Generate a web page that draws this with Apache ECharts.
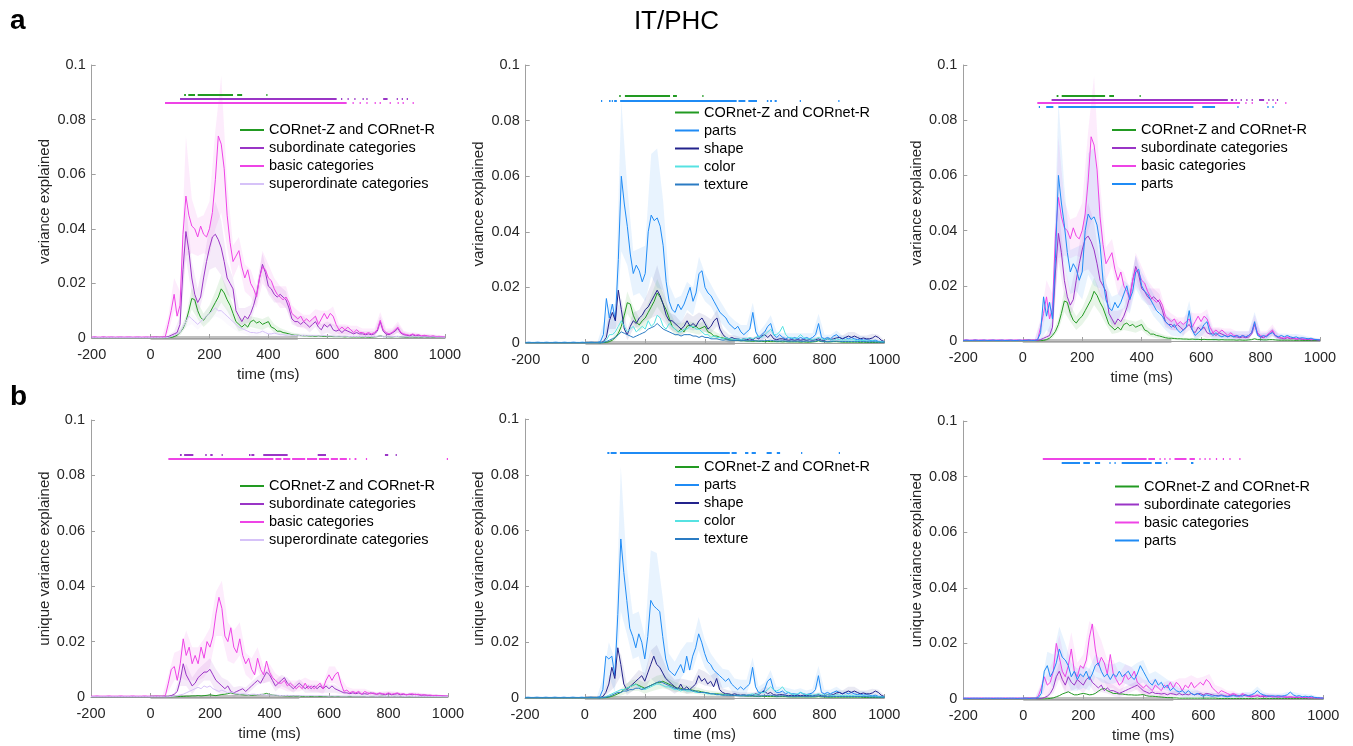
<!DOCTYPE html>
<html>
<head>
<meta charset="utf-8">
<title>IT/PHC</title>
<script src="https://cdn.jsdelivr.net/npm/echarts@6/dist/echarts.min.js"></script>
<style>
  html, body { margin: 0; padding: 0; background: #fff; }
  #chart { width: 1353px; height: 746px; }
</style>
</head>
<body>
<div id="chart"></div>
<script>
"use strict";

// sampling grid: -200 .. 1000 ms, 10 ms steps; all values below are x1e-3
const T0 = -200, DT = 10, N = 121;
const times = [];
for (let i = 0; i < N; i++) times.push(T0 + DT * i);
const xTicks = [-200, 0, 200, 400, 600, 800, 1000];
const yTicks = [0, 0.02, 0.04, 0.06, 0.08, 0.1];
const stimulus = [0, 500];

// ---- a: variance explained ----
const aGreen = [
  0.1,0.1,0.1,0.1,0.1,0.1,0.1,0.1,0.1,0.1, 0.1,0.1,0.1,0.1,0.1,0.1,0.1,0.1,0.1,0.1, 0.1,0.1,0.1,0.1,0.1,
  0,0.1,0.2,0.5,1,2,3.5,6,10,14.5,
  14,10,7.5,6.5,8,9,11,13,15,18,
  16.5,14,12,9,6,5,4,5,4,6,
  6.5,5.5,6,5,5.5,6,4,3.5,2.5,2.5,
  2,1.8,1.5,1.2,1,1,0.9,0.8,0.8,0.7,
  0.7,0.6,0.7,0.6,0.6,0.5,0.6,0.5,0.5,0.5,
  0.5,0.4,0.5,0.4,0.4,0.4,0.4,0.3,0.4,0.3,
  0.3,0.4,0.5,0.8,0.5,0.5,0.4,0.4,0.5,0.5,
  0.4,0.3,0.3,0.3,0.3,0.3,0.3,0.2,0.3,0.2,
  0.2,0.2,0.2,0.2,0.2,0.2
];
const aSub = [
  0.2,0.3,0.2,0.2,0.3,0.2,0.2,0.3,0.2,0.2, 0.3,0.2,0.2,0.3,0.2,0.2,0.3,0.2,0.2,0.3, 0.2,0.2,0.3,0.2,0.2,
  0.2,0.5,1,1.5,2,5,25,39,32,22,
  16,13,15,22,28,33,37,38,36,33,
  28,22,20,18,10,8,6,8,7,9,
  12,16,22,27,24,19,18,16,15,16,
  15,14,11,7,6,6,5,6,5,4,
  5,6,4,3,5,4,5,3,2.5,3,
  2,3,2.5,2,1.5,2,1.5,1.5,1.2,1.5,
  1.2,1.5,2.5,6,2.5,1.5,1.2,1.8,2.5,3.5,
  1.8,1.2,1,0.8,1.2,0.8,1,0.6,0.8,0.6,
  0.5,0.6,0.4,0.5,0.4,0.3
];
const aBasic = [
  0.3,0.4,0.3,0.3,0.4,0.3,0.4,0.3,0.3,0.4, 0.3,0.3,0.4,0.3,0.3,0.4,0.3,0.3,0.4,0.3, 0.3,0.4,0.3,0.3,0.4,
  0.5,5,10,16,8,12,38,52,45,41,
  40,37,41,38,37,40,46,58,74,71,
  62,45,35,28,30,32,26,22,25,20,
  18,15,22,26,25,22,21,18,16,15,
  14,15,13,9,8,7,8,6,7,6,
  7,8,5,7,9,7,9,8,5,3,
  4,3,4,3,2,3,2,2,1.5,2,
  1.5,2,3,6.5,3,2,1.5,2,3,4,
  2,1.5,1.2,1,1.5,1,1.2,0.8,1,0.8,
  0.6,0.8,0.5,0.6,0.5,0.4
];
const aSuper = [
  0.1,0.1,0.1,0.1,0.1,0.1,0.1,0.1,0.1,0.1, 0.1,0.1,0.1,0.1,0.1,0.1,0.1,0.1,0.1,0.1, 0.1,0.1,0.1,0.1,0.1,
  0.1,0.2,0.5,1,1.5,2,4,6,8,7,
  6,5,6,7,8,9,10,11,10,10,
  9,8,7,6,5,4,3.5,3,2.5,2,
  2,1.8,2,2.5,2,1.5,1.5,1.8,1.5,1.2,
  1.2,1,1.2,1,0.9,1,0.8,1,0.8,0.9,
  0.8,0.9,0.7,0.8,0.9,0.7,0.8,0.7,0.6,0.7,
  0.6,0.7,0.6,0.5,0.6,0.5,0.6,0.5,0.5,0.6,
  0.5,0.5,0.6,0.8,0.5,0.5,0.4,0.5,0.5,0.6,
  0.4,0.4,0.5,0.4,0.4,0.5,0.4,0.4,0.3,0.4,
  0.3,0.4,0.3,0.3,0.3,0.3
];
const aParts = [
  0.2,0.3,0.2,0.2,0.3,0.2,0.2,0.3,0.2,0.2, 0.3,0.2,0.2,0.3,0.2,0.2,0.3,0.2,0.2,0.3, 0.2,0.2,0.3,0.2,0.2,
  0.5,3,16,9,14,8,30,60,50,42,
  32,25,28,26,22,25,40,46,44,45,
  42,35,22,15,12,11,14,12,14,17,
  20,15,18,25,26,20,18,17,15,13,
  11,10,9,7,6,5,6,4,3,4,
  5,11,4,2,3,4,6,7,3,2,
  3,2,1.5,2,1.5,2,1.5,2,1.5,2,
  1.5,2,3,7,2,1.5,2,1.5,2.5,3,
  2,1.5,2,1.5,2,1.5,1.2,1.5,1,1.2,
  1,0.8,1,0.6,0.5,0.4
];
const aShape = [
  0.1,0.1,0.1,0.1,0.1,0.1,0.1,0.1,0.1,0.1, 0.1,0.1,0.1,0.1,0.1,0.1,0.1,0.1,0.1,0.1, 0.1,0.1,0.1,0.1,0.1,
  0,0.5,2,8,11,8,19,12,5,3,
  6,8,7,9,10,12,13,15,17,19,
  17,14,10,8,8,7,6,5,6,8,
  6,7,6,8,9,7,5,6,8,9,
  5,3,2,1.5,2,1.5,1.5,1.2,1.5,1.2,
  1.5,1.2,2,1.5,2.5,3,2,3,1.5,1.2,
  1.5,1.5,1.2,1,1.2,1,1.2,1,1.2,1,
  1.2,1,1.2,1.5,1,1,1.5,1.2,1.5,1.8,
  2,1.5,2,2.5,2,2.5,2,1.5,1.8,1.5,
  1.5,1.8,2.5,2,1,0.5
];
const aColor = [
  0.1,0.1,0.1,0.1,0.1,0.1,0.1,0.1,0.1,0.1, 0.1,0.1,0.1,0.1,0.1,0.1,0.1,0.1,0.1,0.1, 0.1,0.1,0.1,0.1,0.1,
  0,0.3,1,3,3,4,6,8,6,4,
  5,6,4,5,6,5,8,6,7,10,
  9,6,5,7,6,5,4,4,5,5,
  6,6,5,5,4,3,3,2,2.5,2,
  2,1.5,2,1.5,1.5,1.2,1.5,1.2,1.5,1.5,
  2,1.5,2,2.5,2,3,4,5,3,3,
  4,6,3,2,2,1.5,2,3,2,1.5,
  1.5,1.2,1.5,2,1.5,1.2,1.5,1.2,1,1.5,
  1.2,1,1.2,1,1.2,1,0.8,1,0.8,0.8,
  0.6,0.8,0.6,0.5,0.5,0.4
];
const aTexture = [
  0.1,0.1,0.1,0.1,0.1,0.1,0.1,0.1,0.1,0.1, 0.1,0.1,0.1,0.1,0.1,0.1,0.1,0.1,0.1,0.1, 0.1,0.1,0.1,0.1,0.1,
  0,0.2,0.5,1,1.5,2,3,4,3.5,3,
  2.5,2,2.5,3,3.5,4,5,5.5,6,7,
  6,5,4.5,4,3.5,3,3,2.5,3,3,
  3,2.5,2.5,2,2.5,2,2,1.5,1.5,1.5,
  1.2,1,1.2,1,1,0.9,1,0.8,0.9,0.8,
  0.8,0.9,0.8,0.7,0.8,0.8,0.9,1,0.8,0.7,
  0.7,0.8,0.7,0.6,0.7,0.6,0.7,0.6,0.6,0.7,
  0.6,0.6,0.7,1,0.6,0.6,0.5,0.6,0.6,0.7,
  0.6,0.5,0.6,0.5,0.6,0.5,0.5,0.6,0.5,0.5,
  0.4,0.5,0.4,0.4,0.3,0.3
];

// confidence half-widths, 20 ms steps from -200 (x1e-3)
const aGreenHW = [
  0.1,0.1,0.1,0.1,0.1,0.1,0.1,0.1,0.1,0.1,0.1,0.1,0.1,
  0.2,0.5,1,2,4,3,2.5,3,4,5,4,3,2.5,2,2,2,2,2,1.5,1.2,1,0.8,0.6,
  0.5,0.5,0.5,0.4,0.4,0.4,0.4,0.4,0.3,0.3,0.3,0.3,0.3,0.3,0.3,0.3,0.3,0.3,0.3,0.3,0.2,0.2,0.2,0.2,0.2
];
const aSubHW = [
  0.2,0.2,0.2,0.2,0.2,0.2,0.2,0.2,0.2,0.2,0.2,0.2,0.2,
  0.5,1,3,10,6,5,6,8,12,10, 6,4,3,3,3,3,4,3,3,3, 3,2,2,2,2,2,2,2,2,1.5,
  1.5,1.2,1.2,1,1,1,2,1,1,1.5, 1,0.8,0.8,0.6,0.6,0.5,0.4,0.3
];
const aBasicHW = [
  0.3,0.3,0.3,0.3,0.3,0.3,0.3,0.3,0.3,0.3,0.3,0.3,0.3,
  3,6,5,22,10,7,7,10,18,25, 12,6,5,5,5,4,6,5,4,4, 4,3,3,2.5,2.5,2.5,3,3,3.5,2,
  2,1.5,1.5,1.5,1.5,1.5,3,1.5,1.5,2, 1.2,1,1,0.8,0.8,0.6,0.5,0.4
];
const aSuperHW = [
  0.1,0.1,0.1,0.1,0.1,0.1,0.1,0.1,0.1,0.1,0.1,0.1,0.1,
  0.2,0.5,1,2,2,2,2,2.5,3,3, 3,2.5,2,1.5,1.5,1.2,1,1,1,1, 0.8,0.8,0.8,0.8,0.7,0.7,0.6,0.6,0.6,0.6,
  0.5,0.5,0.5,0.5,0.5,0.5,0.5,0.5,0.4,0.4, 0.4,0.4,0.4,0.3,0.3,0.3,0.3,0.3
];
const aPartsHW = [
  0.2,0.2,0.2,0.2,0.2,0.2,0.2,0.2,0.2,0.2,0.2,0.2,0.2,
  4,5,6,27,14,8,8,10,22,25, 16,6,5,5,5,5,6,5,4,4, 3.5,3,3,2.5,2.5,3.5,2,2.5,3,2,
  1.5,1.5,1.5,1.5,1.5,1.5,3.5,1.5,1.5,1.5, 1.2,1.2,1,1,1,0.8,0.6,0.5
];
const aShapeHW = [
  0.1,0.1,0.1,0.1,0.1,0.1,0.1,0.1,0.1,0.1,0.1,0.1,0.1,
  0.5,3,3,4,2,3,3,4,6,9, 6,3,3,2.5,3,2.5,3,3,2.5,3, 2,1.5,1.2,1,1,1,1.2,1.5,1.5,1,
  1,1,0.8,0.8,0.8,0.8,0.8,1,0.8,1, 1.2,1.5,1.5,1.2,1.2,1.5,1,0.5
];

// ---- b: unique variance explained ----
const bGreen1 = [
  0.05,0.05,0.05,0.05,0.05,0.05,0.05,0.05,0.05,0.05, 0.05,0.05,0.05,0.05,0.05,0.05,0.05,0.05,0.05,0.05, 0.05,0.05,0.05,0.05,0.05,
  0,0,0,0.1,0.1,0.2,0.2,0.3,0.3,0.4,
  0.4,0.5,0.4,0.5,0.6,0.8,0.6,0.5,0.7,0.9,
  1,1.2,1.5,1.2,1,0.9,0.8,0.7,0.8,0.6,
  0.7,0.8,0.9,1,1.3,0.9,0.7,0.6,0.5,0.5,
  0.4,0.4,0.3,0.3,0.3,0.3,0.2,0.2,0.2,0.2,
  0.2,0.2,0.2,0.2,0.2,0.2,0.2,0.2,0.2,0.2,
  0.2,0.2,0.2,0.2,0.2,0.2,0.2,0.2,0.2,0.2,
  0.2,0.2,0.2,0.3,0.2,0.2,0.2,0.2,0.2,0.2,
  0.1,0.1,0.1,0.1,0.1,0.1,0.1,0.1,0.1,0.1,
  0.1,0.1,0.1,0.1,0.1,0.1
];
const bSub1 = [
  0.1,0.1,0.1,0.1,0.1,0.1,0.1,0.1,0.1,0.1, 0.1,0.1,0.1,0.1,0.1,0.1,0.1,0.1,0.1,0.1, 0.1,0.1,0.1,0.1,0.1,
  0,0.2,0.5,1,2,6,12,8,6,4,
  5,7,8,9,9,10,8,6,5,4,
  3,4,2,1.5,2,2.5,3,2,3,4,
  5,6,5,7,9,8,6,4,5,6,
  7,5,4,3,4,5,4,3,4,3,
  4,3,4,3,4,3,4,3,2.5,2,
  1.5,1.5,1.2,1.5,1.2,1.5,1,1.2,1,1.5,
  1.2,1,1.2,1,0.8,1.2,0.8,1,1.2,0.8,
  1,0.8,1,0.8,1,0.8,0.6,0.7,0.6,0.5,
  0.5,0.5,0.4,0.4,0.3,0.3
];
const bBasic1 = [
  0.3,0.3,0.4,0.3,0.3,0.3,0.4,0.3,0.3,0.3, 0.4,0.3,0.3,0.3,0.4,0.3,0.3,0.3,0.4,0.3, 0.3,0.3,0.4,0.3,0.3,
  0.5,5,10,11,6,12,21,15,18,12,
  15,12,18,14,20,18,22,30,36,32,
  22,20,25,18,16,21,15,12,14,10,
  8,14,10,8,13,9,7,6,5,5,
  6,4,5,4,3,4,3,5,3,4,
  3,4,5,3,6,8,6,8,9,5,
  2,2.5,1.5,2,1.5,2,1,2,1.5,1.2,
  1.5,1,1.5,1.2,1,1.5,1,1.2,1.5,1,
  1.2,0.8,1,1.2,0.8,1,0.7,0.8,0.6,0.7,
  0.5,0.6,0.5,0.4,0.4,0.3
];
const bSuper1 = [
  0.1,0.1,0.1,0.1,0.1,0.1,0.1,0.1,0.1,0.1, 0.1,0.1,0.1,0.1,0.1,0.1,0.1,0.1,0.1,0.1, 0.1,0.1,0.1,0.1,0.1,
  0,0.1,0.2,0.3,0.5,0.8,1,1.5,2,2.5,
  3,3.5,3,4,3.5,4,3,2.5,2,2.5,
  2,1.5,1.8,1.5,1.2,1,1.2,1,0.8,1,
  1,0.8,1,0.8,0.7,0.8,0.6,0.7,0.6,0.5,
  0.5,0.6,0.5,0.4,0.5,0.4,0.5,0.4,0.4,0.5,
  0.4,0.4,0.5,0.4,0.4,0.3,0.4,0.3,0.4,0.3,
  0.3,0.3,0.4,0.3,0.3,0.3,0.3,0.3,0.2,0.3,
  0.3,0.2,0.3,0.3,0.2,0.3,0.2,0.3,0.2,0.3,
  0.2,0.2,0.3,0.2,0.2,0.2,0.2,0.2,0.2,0.2,
  0.2,0.2,0.2,0.1,0.1,0.1
];
const bGreen2 = [
  0.05,0.05,0.05,0.05,0.05,0.05,0.05,0.05,0.05,0.05, 0.05,0.05,0.05,0.05,0.05,0.05,0.05,0.05,0.05,0.05, 0.05,0.05,0.05,0.05,0.05,
  0,0,0.1,0.3,0.6,1,1.5,2,3,3.5,
  4,4.5,5,4.5,4,3.5,4,4.5,5,5.5,
  5.5,6,5.5,5,4.5,4,3.5,3.5,3,3,
  3,2.8,2.5,2.5,2.2,2,1.8,1.6,1.5,1.5,
  1.4,1.3,1.2,1.1,1,0.9,0.9,0.8,0.8,0.7,
  0.7,0.7,0.6,0.6,0.6,0.6,0.5,0.5,0.5,0.5,
  0.5,0.5,0.5,0.4,0.4,0.4,0.4,0.4,0.4,0.4,
  0.4,0.4,0.4,0.5,0.4,0.4,0.3,0.3,0.3,0.3,
  0.3,0.3,0.3,0.3,0.3,0.3,0.3,0.3,0.2,0.2,
  0.2,0.2,0.2,0.2,0.2,0.2
];
const bParts2 = [
  0.2,0.3,0.2,0.2,0.3,0.2,0.2,0.3,0.2,0.2, 0.3,0.2,0.2,0.3,0.2,0.2,0.3,0.2,0.2,0.3, 0.2,0.2,0.3,0.2,0.2,
  0.5,3,15,14,15,8,30,57,45,35,
  25,22,18,23,20,14,22,35,33,32,
  31,22,14,10,9,8,10,12,9,15,
  10,15,18,23,20,16,13,12,10,9,
  8,7,6,7,5,4,3,4,3,4,
  5,11,4,2,2,3,6,7,3,2,
  2,2.5,1.5,2,1.5,1.5,1.2,2,1.5,1.2,
  1.5,1.8,3,8,2,1.5,2,1.5,2,2.5,
  2,1.5,2,1.5,2,1.5,1.2,1.5,1,1.2,
  1,0.8,1,0.6,0.5,0.4
];
const bShape2 = [
  0.1,0.1,0.1,0.1,0.1,0.1,0.1,0.1,0.1,0.1, 0.1,0.1,0.1,0.1,0.1,0.1,0.1,0.1,0.1,0.1, 0.1,0.1,0.1,0.1,0.1,
  0,0.5,2,5,11,7,18,12,5,3,
  4,5,6,7,8,6,9,12,15,12,
  11,9,7,6,5,4,3,5,3,4,
  3,4,5,8,6,7,5,6,4,7,
  3,2,1.5,1.5,1.2,1.5,1.2,1,1.2,1,
  1.2,1,1.5,1.2,2,2.5,1.5,2,1.2,1,
  1.2,1.2,1,0.8,1,0.8,1,0.8,1,0.8,
  1,0.8,1,1.2,0.8,0.8,1.2,1,1.2,1.8,
  2,1.5,2,2.5,2,2.5,2,1.5,1.8,1.5,
  1.5,1.8,2.5,2,1,0.5
];
const bColor2 = [
  0.1,0.1,0.1,0.1,0.1,0.1,0.1,0.1,0.1,0.1, 0.1,0.1,0.1,0.1,0.1,0.1,0.1,0.1,0.1,0.1, 0.1,0.1,0.1,0.1,0.1,
  0,0.2,0.5,1,1.5,2,2.5,3,3,3.5,
  4,4.5,5,4,3.5,3,3.5,4,4.5,5,
  5,4.5,4,4,3.5,3,3,2.5,3,2.5,
  2.5,2.5,2,2,2,1.8,1.5,1.5,1.5,1.2,
  1.2,1,1.2,1,1,0.9,1,0.9,1,1,
  1.2,1.5,1.2,1.5,2,2,3,4,3,2.5,
  3,4,2.5,2,1.5,1.2,1.5,2,1.5,1.2,
  1.2,1,1.2,1.5,1.2,1,1.2,1,0.8,1.2,
  1,0.8,1,0.8,1,0.8,0.7,0.8,0.7,0.7,
  0.6,0.7,0.5,0.5,0.4,0.4
];
const bTexture2 = [
  0.1,0.1,0.1,0.1,0.1,0.1,0.1,0.1,0.1,0.1, 0.1,0.1,0.1,0.1,0.1,0.1,0.1,0.1,0.1,0.1, 0.1,0.1,0.1,0.1,0.1,
  0,0.1,0.3,0.5,1,1.5,2,2,2.5,2.5,
  3,3,3.5,3.5,3,3.5,4,4.5,5,5.5,
  6,5.5,5,4.5,4,3.5,3.5,3,3,3,
  3,2.5,2.5,2,2,2,1.8,1.5,1.5,1.2,
  1.2,1,1,1,0.9,0.9,0.8,0.8,0.8,0.8,
  0.8,0.8,0.7,0.7,0.8,0.8,0.9,1,0.8,0.7,
  0.7,0.8,0.7,0.6,0.6,0.6,0.6,0.6,0.6,0.6,
  0.6,0.6,0.6,0.8,0.6,0.6,0.5,0.5,0.5,0.6,
  0.5,0.5,0.5,0.5,0.5,0.5,0.5,0.5,0.5,0.5,
  0.4,0.4,0.4,0.3,0.3,0.3
];
const bGreen3 = [
  0.05,0.05,0.05,0.05,0.05,0.05,0.05,0.05,0.05,0.05, 0.05,0.05,0.05,0.05,0.05,0.05,0.05,0.05,0.05,0.05, 0.05,0.05,0.05,0.05,0.05,
  0,0,0,0.1,0.2,0.4,0.8,1.2,1.8,2.2,
  2.6,2,1.5,1.5,1.8,2,1.8,1.5,1.6,2,
  2.8,3.5,3.8,3,2.5,2,2,1.8,1.8,1.6,
  1.5,1.5,1.4,1.4,1.5,1.6,1.2,1,1,0.9,
  0.8,0.7,0.6,0.5,0.5,0.4,0.4,0.3,0.3,0.3,
  0.3,0.3,0.3,0.3,0.3,0.3,0.3,0.3,0.3,0.3,
  0.2,0.2,0.2,0.2,0.2,0.2,0.2,0.2,0.2,0.2,
  0.2,0.2,0.2,0.3,0.2,0.2,0.2,0.2,0.2,0.2,
  0.2,0.2,0.2,0.2,0.2,0.2,0.2,0.2,0.2,0.2,
  0.1,0.1,0.1,0.1,0.1,0.1
];
const bSub3 = [
  0.1,0.1,0.1,0.1,0.1,0.1,0.1,0.1,0.1,0.1, 0.1,0.1,0.1,0.1,0.1,0.1,0.1,0.1,0.1,0.1, 0.1,0.1,0.1,0.1,0.1,
  0,0.2,0.5,1,2,4,8,10,7,5,
  8,6,5,7,6,5,7,8,6,5,
  4,5,3,4,3,3,2.5,2,2.5,3,
  3.5,4,4.5,5,4,3,2.5,2,2.5,2,
  2,1.8,2,1.5,2,1.8,1.5,2,1.5,1.8,
  1.5,2,1.5,1.8,2,1.5,2,1.8,1.5,1.2,
  1.2,1.5,1.2,1,1.2,1.5,1.2,1,1.5,1.2,
  1,0.8,1,1.2,0.8,1,0.8,1,0.8,0.8,
  0.7,0.8,0.7,0.6,0.7,0.6,0.5,0.6,0.5,0.5,
  0.4,0.4,0.4,0.3,0.3,0.3
];
const bBasic3 = [
  0.3,0.3,0.4,0.3,0.3,0.3,0.4,0.3,0.3,0.3, 0.4,0.3,0.3,0.3,0.4,0.3,0.3,0.3,0.4,0.3, 0.3,0.3,0.4,0.3,0.3,
  1,4,8,5,6,10,20,15,10,8,
  12,18,10,8,12,11,14,22,27,18,
  12,15,13,9,16,9,7,5,6,9,
  7,8,10,6,5,4,5,4,3,5,
  4,3,5,4,6,4,6,5,3,5,
  4,6,4,5,6,5,7,6,4,3,
  2,3,2.5,2,1.5,2,1.5,1,2,1.5,
  1,1.2,1,1.5,1,1.2,1,1.2,0.8,1,
  0.8,1,0.8,0.7,0.8,0.6,0.7,0.6,0.5,0.6,
  0.5,0.5,0.4,0.4,0.3,0.3
];
const bParts3 = [
  0.3,0.3,0.2,0.3,0.3,0.3,0.2,0.3,0.3,0.3, 0.2,0.3,0.3,0.3,0.2,0.3,0.3,0.3,0.2,0.3, 0.3,0.3,0.2,0.3,0.3,
  0.5,2,10,12,8,10,13,18,15,14,
  12,8,10,7,9,8,10,7,9,12,
  13,10,8,9,7,9,8,10,8,9,
  10,8,7,9,12,10,8,6,5,7,
  5,6,4,5,3,4,3,2.5,3,2,
  3,2,1.5,2,1.5,1,1.5,1.2,1,1.2,
  1,1.2,1,0.8,1,1.2,1,1.2,1,1.5,
  1.2,1.5,2,3,2,1.5,1.2,1,1.2,1,
  1.2,1,1.2,1.5,2.5,1.5,1,1.2,0.8,1,
  0.8,1,0.6,0.5,0.4,0.3
];

const bSub1HW = [
  0.1,0.1,0.1,0.1,0.1,0.1,0.1,0.1,0.1,0.1,0.1,0.1,0.1,
  0.2,0.5,2,4,3,3,3,4,4,3, 2,2,1.5,1.5,1.5,1.5,2,2.5,2,2, 2,1.5,1.5,1.5,1.5,1.5,1.5,1.5,1.5,1,
  0.8,0.8,0.8,0.6,0.6,0.6,0.6,0.6,0.6,0.6, 0.5,0.5,0.5,0.5,0.4,0.4,0.3,0.3
];
const bBasic1HW = [
  0.2,0.2,0.2,0.2,0.2,0.2,0.2,0.2,0.2,0.2,0.2,0.2,0.2,
  3,5,5,9,6,6,7,7,8,10, 7,6,6,4,4,4,3,3,2.5,2, 2,2,2,2,2,2,2,3,3,2,
  1.2,1,1,1,1,0.8,0.8,0.8,0.8,0.8, 0.6,0.6,0.6,0.5,0.5,0.4,0.3,0.3
];
const bGreen2HW = [
  0.1,0.1,0.1,0.1,0.1,0.1,0.1,0.1,0.1,0.1,0.1,0.1,0.1,
  0.1,0.3,0.8,1.2,1.8,2,2,2,2.2,2.5, 2.5,2,1.8,1.5,1.5,1.2,1.2,1,1,0.8, 0.7,0.6,0.5,0.5,0.4,0.4,0.4,0.3,0.3,0.3,
  0.3,0.3,0.3,0.3,0.3,0.3,0.3,0.3,0.3,0.3, 0.2,0.2,0.2,0.2,0.2,0.2,0.2,0.2
];
const bParts2HW = [
  0.2,0.2,0.2,0.2,0.2,0.2,0.2,0.2,0.2,0.2,0.2,0.2,0.2,
  4,6,6,26,12,8,8,8,18,20, 14,6,5,5,5,5,6,5,4,4, 3.5,3,3,2.5,2.5,3.5,2,2.5,3,2,
  1.5,1.5,1.5,1.5,1.5,1.5,3.5,1.5,1.5,1.5, 1.2,1.2,1,1,1,0.8,0.6,0.5
];
const bShape2HW = [
  0.1,0.1,0.1,0.1,0.1,0.1,0.1,0.1,0.1,0.1,0.1,0.1,0.1,
  0.5,3,3,4,2,2.5,3,3,5,7, 5,3,2.5,2,2.5,2,2.5,2.5,2,2.5, 1.5,1.2,1,1,1,1,1.2,1.5,1.5,1,
  1,1,0.8,0.8,0.8,0.8,0.8,1,0.8,1, 1.2,1.5,1.5,1.2,1.2,1.5,1,0.5
];
const bSub3HW = [
  0.1,0.1,0.1,0.1,0.1,0.1,0.1,0.1,0.1,0.1,0.1,0.1,0.1,
  0.2,0.5,2,3,3,3,3,3,3,3, 2.5,2,2,1.5,1.5,1.5,1.5,1.5,1.2,1, 1,1,1,1,1,1,1,1,1,0.8,
  0.8,0.8,0.8,0.6,0.6,0.6,0.6,0.6,0.6,0.6, 0.5,0.5,0.4,0.4,0.4,0.3,0.3,0.3
];
const bBasic3HW = [
  0.2,0.2,0.2,0.2,0.2,0.2,0.2,0.2,0.2,0.2,0.2,0.2,0.2,
  2,4,4,8,5,6,5,5,6,8, 6,5,5,4,3.5,3.5,3,3,2.5,2.5, 2.5,2.5,2.5,2.5,2.5,2.5,2.5,3,3,2,
  1.2,1,1,1,0.8,0.8,0.8,0.8,0.8,0.8, 0.6,0.6,0.6,0.5,0.5,0.4,0.3,0.3
];
const bParts3HW = [
  0.2,0.2,0.2,0.2,0.2,0.2,0.2,0.2,0.2,0.2,0.2,0.2,0.2,
  3,5,6,8,6,5,4,4,4,4, 4,3.5,3.5,3.5,3.5,3.5,4,4,3,3, 2.5,2,2,1.5,1.5,1.5,1.2,1,1,1,
  1,1,1,1,1,1,1.5,1,1,1, 1,1,1,0.8,0.8,0.6,0.5,0.4
];

// significant time windows (ms)
const sigA1Green = [[114,120],[128,151],[160,280],[294,311],[393,397]];
const sigA1Sub = [[100,632],[647,651],[669,673],[692,696],[720,724],[733,737],[790,805],[836,840],[853,857],[870,874]];
const sigA1Basic = [[49,666],[686,690],[710,714],[733,737],[761,765],[778,782],[812,816],[839,843],[856,860],[890,894]];
const sigA2Green = [[113,118],[132,283],[293,306],[391,395]];
const sigA2Parts = [[52,56],[79,84],[88,92],[96,105],[116,506],[512,535],[545,574],[607,612],[618,624],[633,640],[717,721],[846,850]];
const sigA3Green = [[114,120],[131,277],[291,307],[393,397]];
const sigA3Sub = [[97,690],[700,708],[716,720],[733,737],[752,756],[770,774],[795,812],[826,830],[840,844],[855,859]];
const sigA3Basic = [[49,731],[749,753],[770,774],[820,824],[849,853],[883,887]];
const sigA3Parts = [[54,58],[79,103],[120,574],[604,647],[722,726],[823,827],[840,844]];
const sigB1Sub = [[99,105],[113,144],[184,189],[201,209],[239,243],[331,336],[339,349],[379,461],[562,590],[788,799],[824,828]];
const sigB1Basic = [[60,413],[420,440],[446,470],[476,520],[526,560],[566,600],[606,630],[636,660],[668,672],[686,692],[724,728],[996,1000]];
const sigB2Parts = [[75,82],[86,106],[117,484],[490,507],[535,546],[557,571],[607,624],[641,652],[722,726],[848,852]];
const sigB3Basic = [[65,411],[417,439],[454,458],[470,474],[487,491],[504,544],[554,572],[587,591],[604,608],[620,624],[642,646],[665,669],[687,691],[720,724]];
const sigB3Parts = [[128,189],[200,222],[239,256],[287,291],[304,308],[328,428],[439,461],[476,480],[559,567]];

const NAMES = {
  green: 'CORnet-Z and CORnet-R', sub: 'subordinate categories', basic: 'basic categories',
  sup: 'superordinate categories', parts: 'parts', shape: 'shape', color: 'color', texture: 'texture'
};
const COLORS = {
  green: '#229a22', sub: '#9a35c6', basic: '#ee44e6', sup: '#d6c2f8',
  parts: '#1f8bf5', shape: '#23238c', color: '#56e2e2', texture: '#2a7bc3'
};
const FONT = '"Liberation Sans", Arial, sans-serif';

// layout of the six panels
const panels = [
  { box: [91.7, 65, 353.3, 273], yName: 'variance explained', legend: [240, 121],
    curves: [['green', aGreen, aGreenHW], ['sub', aSub, aSubHW], ['basic', aBasic, aBasicHW], ['sup', aSuper, aSuperHW]],
    sig: [['green', sigA1Green, 0.089], ['sub', sigA1Sub, 0.0876], ['basic', sigA1Basic, 0.0862]] },
  { box: [525.7, 65, 358.6, 278], yName: 'variance explained', legend: [675, 103.5],
    curves: [['green', aGreen, aGreenHW], ['parts', aParts, aPartsHW], ['shape', aShape, aShapeHW], ['color', aColor, null], ['texture', aTexture, null]],
    sig: [['green', sigA2Green, 0.0891], ['parts', sigA2Parts, 0.0873]] },
  { box: [963.3, 65, 356.7, 276], yName: 'variance explained', legend: [1112, 121],
    curves: [['green', aGreen, aGreenHW], ['sub', aSub, aSubHW], ['basic', aBasic, aBasicHW], ['parts', aParts, aPartsHW]],
    sig: [['green', sigA3Green, 0.089], ['sub', sigA3Sub, 0.0873], ['basic', sigA3Basic, 0.0862], ['parts', sigA3Parts, 0.0848]] },
  { box: [91, 420, 357, 277], yName: 'unique variance explained', legend: [240, 477],
    curves: [['green', bGreen1, null], ['sub', bSub1, bSub1HW], ['basic', bBasic1, bBasic1HW], ['sup', bSuper1, null]],
    sig: [['sub', sigB1Sub, 0.0875], ['basic', sigB1Basic, 0.086]] },
  { box: [525, 419, 359.3, 279], yName: 'unique variance explained', legend: [675, 458],
    curves: [['green', bGreen2, bGreen2HW], ['parts', bParts2, bParts2HW], ['shape', bShape2, bShape2HW], ['color', bColor2, null], ['texture', bTexture2, null]],
    sig: [['parts', sigB2Parts, 0.0878]] },
  { box: [963.3, 421, 360, 278], yName: 'unique variance explained', legend: [1115, 477.5],
    curves: [['green', bGreen3, null], ['sub', bSub3, bSub3HW], ['basic', bBasic3, bBasic3HW], ['parts', bParts3, bParts3HW]],
    sig: [['basic', sigB3Basic, 0.0866], ['parts', sigB3Parts, 0.0851]] }
];

function rgba(hex, a) {
  const n = parseInt(hex.slice(1), 16);
  return 'rgba(' + (n >> 16) + ',' + ((n >> 8) & 255) + ',' + (n & 255) + ',' + a + ')';
}

function bandSeries(p, mean, hw, color) {
  return {
    type: 'custom', xAxisIndex: p, yAxisIndex: p, silent: true, z: 1, animation: false,
    data: [[0, 0]],
    renderItem: function (params, api) {
      const up = [], lo = [];
      for (let k = 0; k < hw.length; k++) {
        const t = T0 + 2 * DT * k, m = mean[2 * k];
        up.push(api.coord([t, (m + hw[k]) / 1000]));
        lo.push(api.coord([t, Math.max(0, m - hw[k]) / 1000]));
      }
      return { type: 'polygon', shape: { points: up.concat(lo.reverse()) },
               style: { fill: rgba(color, 0.1) } };
    }
  };
}

const chart = echarts.init(document.getElementById('chart'), null, { renderer: 'canvas' });

const grid = [], xAxis = [], yAxis = [], series = [], legend = [];
panels.forEach(function (pn, p) {
  grid.push({ left: pn.box[0], top: pn.box[1], width: pn.box[2], height: pn.box[3], containLabel: false, outerBoundsMode: 'none' });
  xAxis.push({
    type: 'value', gridIndex: p, min: xTicks[0], max: xTicks[xTicks.length - 1], interval: 200,
    name: 'time (ms)', nameLocation: 'middle', nameGap: 29,
    nameTextStyle: { fontFamily: FONT, fontSize: 15, color: '#262626' },
    axisLine: { show: true, onZero: false, lineStyle: { color: '#a0a0a0', width: 1 } },
    axisTick: { show: true, inside: true, length: 4, lineStyle: { color: '#a0a0a0' } },
    axisLabel: { fontFamily: FONT, fontSize: 14.5, color: '#262626', margin: 9,
                 formatter: function (v) { return String(v); } },
    splitLine: { show: false }
  });
  yAxis.push({
    type: 'value', gridIndex: p, min: yTicks[0], max: yTicks[yTicks.length - 1], interval: 0.02,
    name: pn.yName, nameLocation: 'middle', nameGap: 39,
    nameTextStyle: { fontFamily: FONT, fontSize: 15, color: '#262626' },
    axisLine: { show: true, onZero: false, lineStyle: { color: '#a0a0a0', width: 1 } },
    axisTick: { show: true, inside: true, length: 4, lineStyle: { color: '#a0a0a0' } },
    axisLabel: { fontFamily: FONT, fontSize: 14.5, color: '#262626', margin: 6,
                 formatter: function (v) { return v === 0 ? '0' : String(Math.round(v * 100) / 100); } },
    splitLine: { show: false }
  });

  // stimulus duration bar on the time axis
  series.push({
    type: 'line', xAxisIndex: p, yAxisIndex: p, silent: true, clip: false, z: 0, animation: false,
    data: stimulus.map(function (t) { return [t, 0]; }), symbol: 'none',
    lineStyle: { color: 'rgba(160,160,160,0.65)', width: 4 }
  });

  pn.curves.forEach(function (c) {
    if (c[2]) series.push(bandSeries(p, c[1], c[2], COLORS[c[0]]));
  });
  pn.curves.forEach(function (c) {
    const col = COLORS[c[0]];
    series.push({
      type: 'line', name: NAMES[c[0]], xAxisIndex: p, yAxisIndex: p, animation: false, silent: true,
      data: times.map(function (t, i) { return [t, c[1][i] / 1000]; }),
      symbol: 'none', showSymbol: false, color: col, itemStyle: { color: col },
      lineStyle: { color: col, width: 1 }, z: 3
    });
  });

  pn.sig.forEach(function (s) {
    series.push({
      type: 'lines', coordinateSystem: 'cartesian2d', xAxisIndex: p, yAxisIndex: p,
      silent: true, animation: false, z: 4,
      data: s[1].map(function (iv) { return { coords: [[iv[0], s[2]], [iv[1], s[2]]] }; }),
      lineStyle: { color: COLORS[s[0]], width: 2, opacity: 1 }
    });
  });

  legend.push({
    orient: 'vertical', left: pn.legend[0], top: pn.legend[1], padding: 0,
    itemWidth: 24, itemHeight: 2, itemGap: 0, icon: 'rect', selectedMode: false,
    textStyle: { fontFamily: FONT, fontSize: 14.5, color: '#000', lineHeight: 18 },
    data: pn.curves.map(function (c) { return NAMES[c[0]]; })
  });
});

chart.setOption({
  backgroundColor: '#fff',
  animation: false,
  title: { text: 'IT/PHC', left: 'center', top: 4,
           textStyle: { fontFamily: FONT, fontSize: 26, fontWeight: 'normal', color: '#000' } },
  graphic: [
    { type: 'text', left: 10, top: 7, style: { text: 'a', font: 'bold 28px "Liberation Sans", Arial', fill: '#000' } },
    { type: 'text', left: 10, top: 383, style: { text: 'b', font: 'bold 28px "Liberation Sans", Arial', fill: '#000' } }
  ],
  grid: grid, xAxis: xAxis, yAxis: yAxis, legend: legend, series: series
});
</script>
</body>
</html>
